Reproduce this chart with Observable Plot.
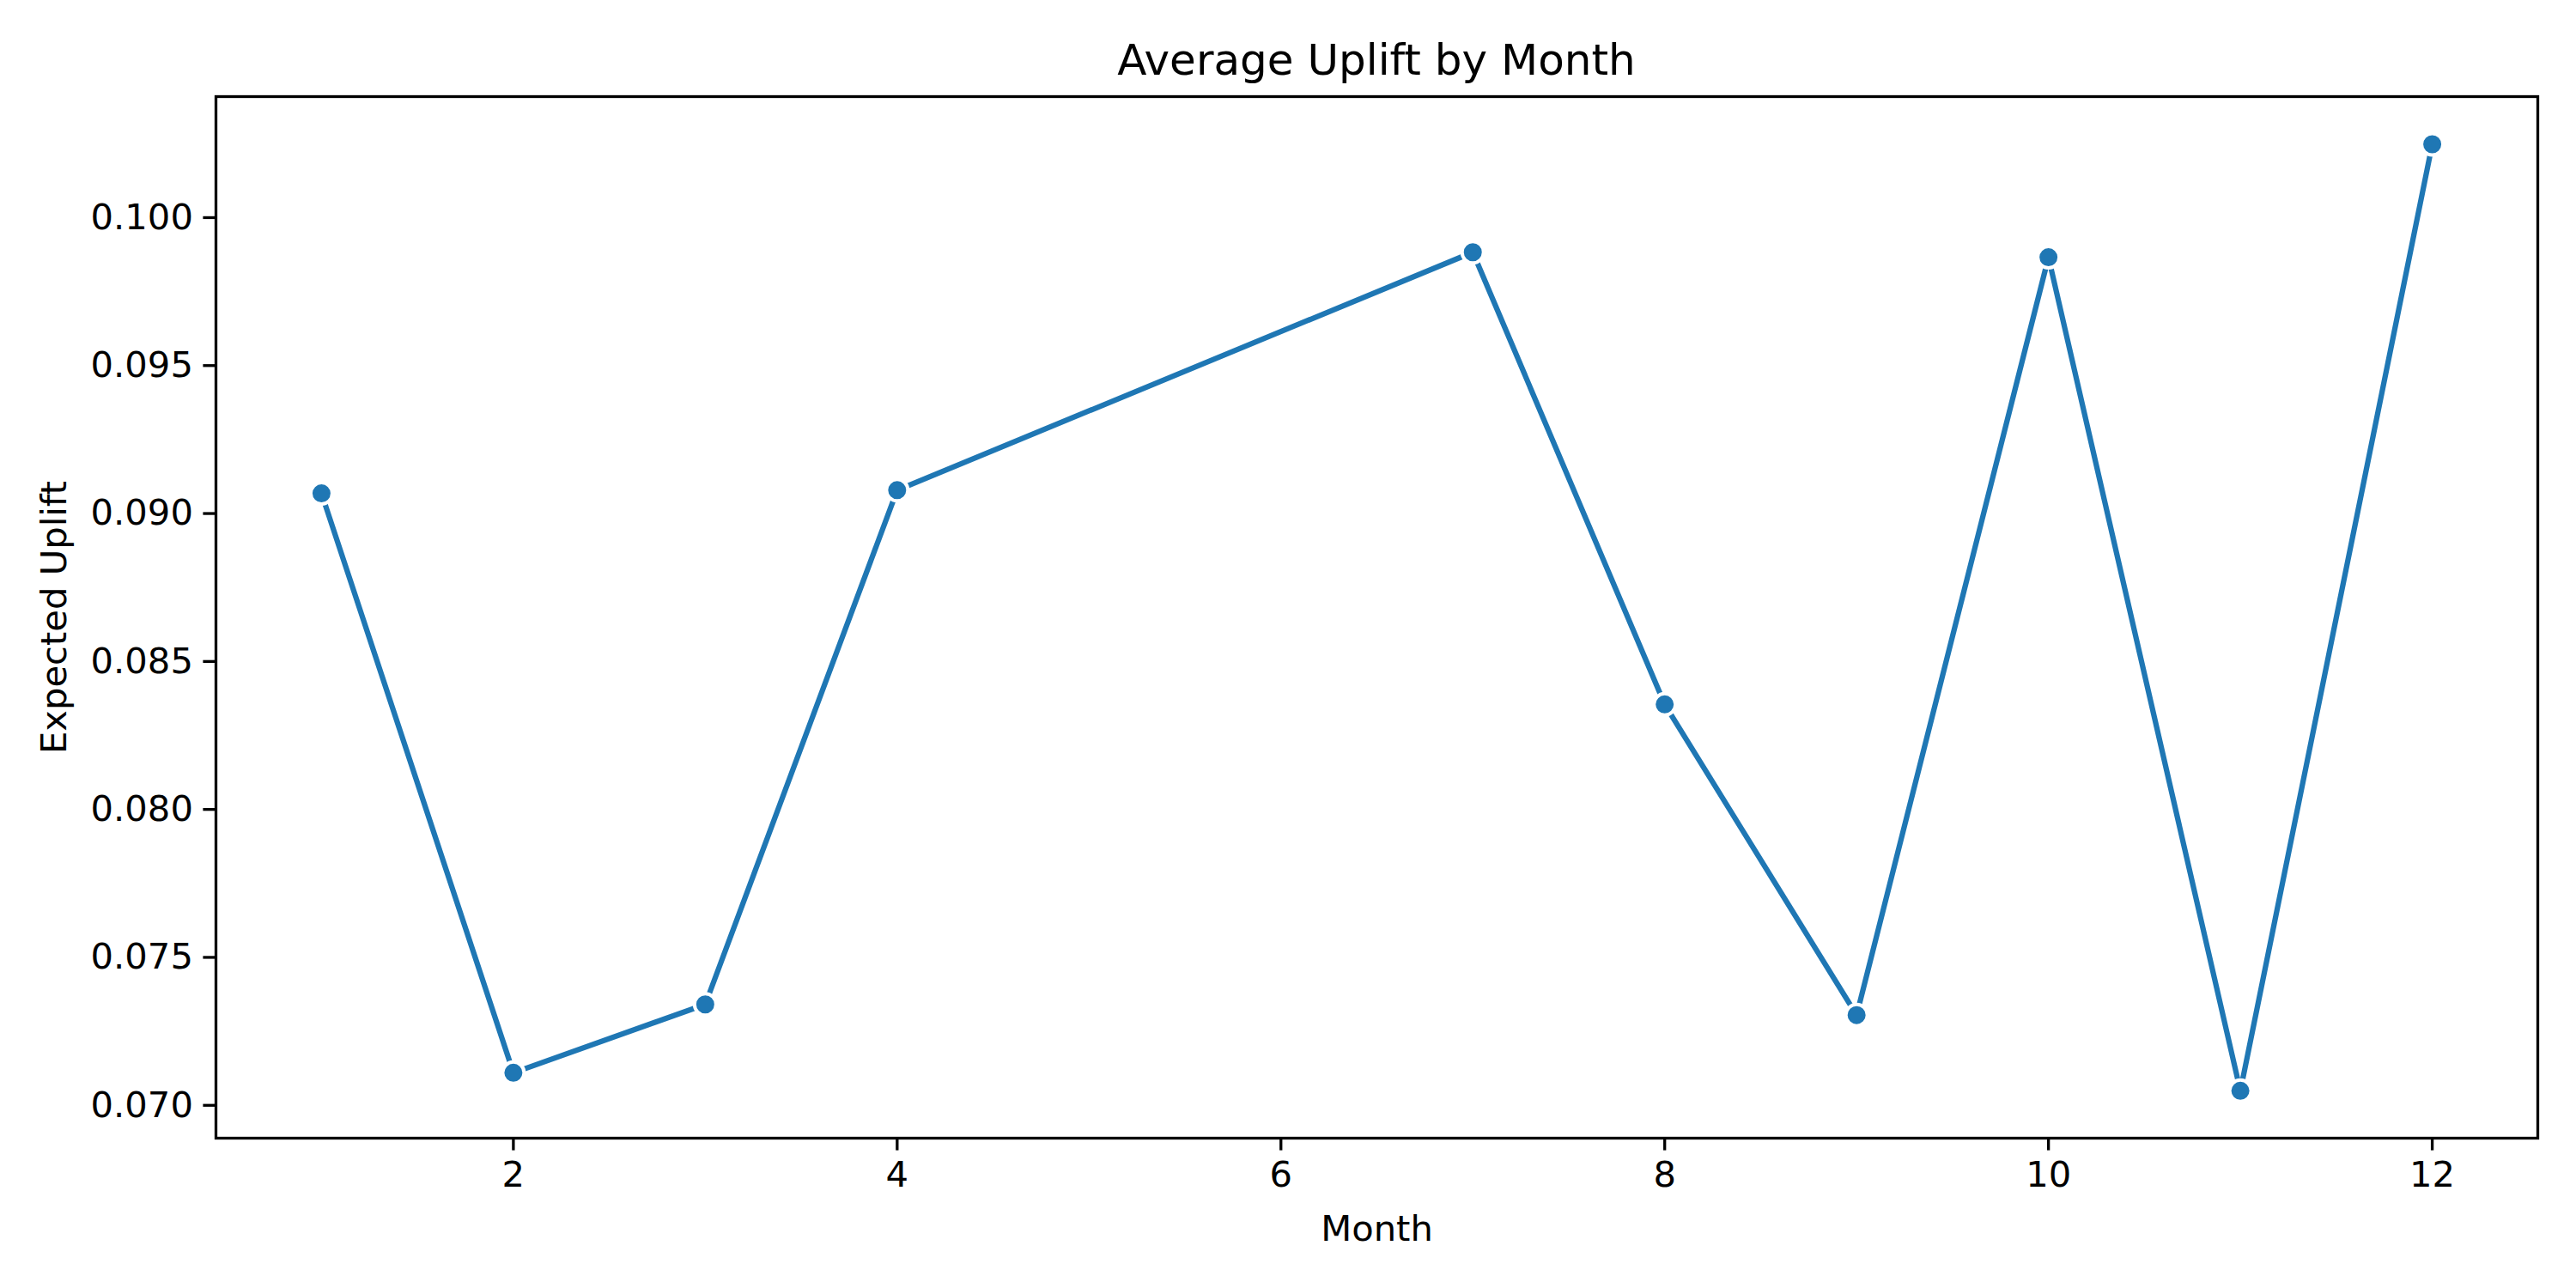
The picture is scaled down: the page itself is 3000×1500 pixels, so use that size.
<!DOCTYPE html>
<html>
<head>
<meta charset="utf-8">
<script src="https://cdn.jsdelivr.net/npm/d3@7"></script>
<script src="https://cdn.jsdelivr.net/npm/@observablehq/plot@0.6"></script>
<style>
  html, body { margin: 0; padding: 0; background: #fff; }
  #title {
    box-sizing: border-box;
    width: 3000px; height: 100px;
    padding: 41px 45px 0 251px;
    font-family: "DejaVu Sans", sans-serif;
    font-size: 50px; line-height: 58px;
    text-align: center; color: #000;
  }
  #chart svg { display: block; font-family: "DejaVu Sans", sans-serif; }
</style>
</head>
<body>
<div id="title">Average Uplift by Month</div>
<div id="chart"></div>
<script>
const months = [1, 2, 3, 4, 7, 8, 9, 10, 11, 12];
const uplift = [0.09068, 0.07110, 0.07341, 0.09079, 0.09883, 0.08355, 0.07305, 0.09866, 0.07049, 0.10248];
const xTicks = [2, 4, 6, 8, 10, 12];
const yTicks = [0.070, 0.075, 0.080, 0.085, 0.090, 0.095, 0.100];
const xLabel = "Month";
const yLabel = "Expected Uplift";

const data = months.map((m, i) => ({month: m, uplift: uplift[i]}));
const blue = "#1f77b4";

const chart = Plot.plot({
  width: 3000,
  height: 1400,
  marginLeft: 251,
  marginRight: 45,
  marginTop: 12,
  marginBottom: 175,
  style: {fontFamily: "DejaVu Sans, sans-serif", background: "#fff", color: "#000"},
  x: {domain: [0.45, 12.55]},
  y: {domain: [0.06889, 0.10409]},
  marks: [
    Plot.axisX({ticks: xTicks, tickFormat: d => String(d), tickSize: 14.6, tickPadding: 12, strokeWidth: 3.3, fontSize: 41.7, label: null}),
    Plot.axisY({ticks: yTicks, tickFormat: d3.format(".3f"), tickSize: 14.6, tickPadding: 12, strokeWidth: 3.3, fontSize: 41.7, label: null}),
    Plot.line(data, {x: "month", y: "uplift", stroke: blue, strokeWidth: 6.25, strokeLinejoin: "round", strokeLinecap: "butt"}),
    Plot.dot(data, {x: "month", y: "uplift", r: 12.5, fill: blue, stroke: "#fff", strokeWidth: 4}),
    Plot.frame({stroke: "#000", strokeWidth: 3.3}),
    Plot.text([xLabel], {frameAnchor: "bottom", text: d => d, dy: 106, textAnchor: "middle", lineAnchor: "middle", fontSize: 41.7, fill: "#000"}),
    Plot.text([yLabel], {frameAnchor: "left", text: d => d, rotate: -90, dx: -188, textAnchor: "middle", lineAnchor: "middle", fontSize: 41.7, fill: "#000"})
  ]
});
document.getElementById("chart").appendChild(chart);
</script>
</body>
</html>
